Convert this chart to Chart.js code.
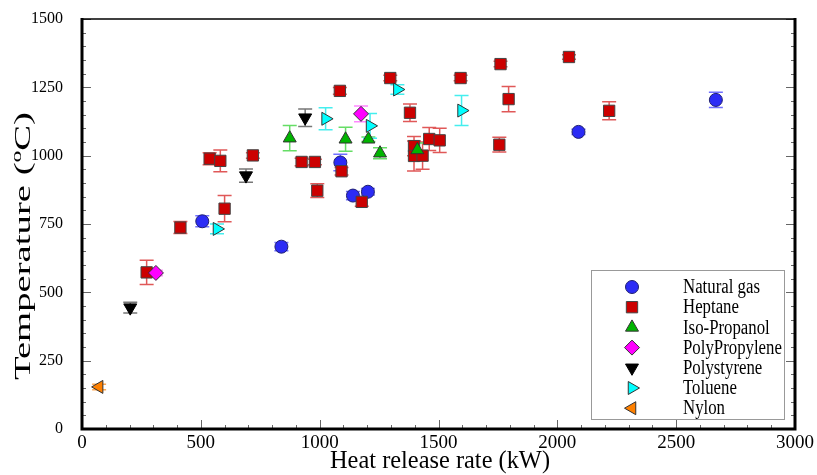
<!DOCTYPE html>
<html>
<head>
<meta charset="utf-8">
<script src="https://cdn.jsdelivr.net/npm/chart.js@4.4.1/dist/chart.umd.min.js"></script>
<style>
  html, body { margin: 0; padding: 0; background: #fff; }
  #wrap { width: 817px; height: 475px; }
</style>
</head>
<body>
<div id="wrap"><canvas id="heatChart" width="817" height="475"></canvas></div>
<script>
// heat release rate (kW), temperature (C), error half-size (C)
const gasHrr = [506, 839, 1087, 1140, 1203, 2089, 2667];
const gasTemp = [760, 667, 975, 854, 868, 1087, 1204];
const gasErr = [20, 15, 30, 15, 12, 10, 28];

const hepHrr = [272, 414, 537, 582, 600, 719, 924, 980, 990, 1085, 1092, 1177, 1297,
                1380, 1397, 1397, 1433, 1461, 1505, 1593, 1756, 1761, 1795, 2049, 2218];
const hepTemp = [573, 737, 989, 981, 806, 1001, 977, 977, 872, 1237, 943, 831, 1284,
                 1157, 1035, 999, 1000, 1061, 1056, 1284, 1040, 1335, 1207, 1361, 1164];
const hepErr = [44, 22, 22, 40, 48, 10, 14, 10, 25, 12, 14, 16, 10,
                32, 35, 55, 50, 42, 44, 10, 27, 10, 46, 8, 33];

const isoHrr = [874, 1109, 1205, 1254, 1411];
const isoTemp = [1064, 1060, 1060, 1009, 1021];
const isoErr = [46, 44, 8, 20, 25];

const ppHrr = [311, 1174];
const ppTemp = [571, 1153];
const ppErr = [10, 29];

const psHrr = [203, 690, 939];
const psTemp = [444, 927, 1139];
const psErr = [20, 24, 32];

const tolHrr = [568, 1025, 1212, 1327, 1597];
const tolTemp = [732, 1135, 1109, 1242, 1165];
const tolErr = [18, 40, 45, 17, 55];

const nyHrr = [72];
const nyTemp = [154];
const nyErr = [10];

const xTicks = [0, 500, 1000, 1500, 2000, 2500, 3000];
const yTicks = [0, 250, 500, 750, 1000, 1250, 1500];

const SERIF = '"Liberation Serif", "DejaVu Serif", serif';

function pts(xs, ys) {
  return xs.map((x, i) => ({ x: x, y: ys[i] }));
}

function series(label, xs, ys, errs, style) {
  return Object.assign({
    label: label,
    data: pts(xs, ys),
    errors: errs,
    borderWidth: 1,
    showLine: false
  }, style);
}

const datasets = [
  series('Natural gas', gasHrr, gasTemp, gasErr,
    { pointStyle: 'circle', pointRadius: 6.5, backgroundColor: '#2b2bf5', borderColor: '#202070', errorColor: '#7070ff' }),
  series('Heptane', hepHrr, hepTemp, hepErr,
    { pointStyle: 'rect', pointRadius: 8, backgroundColor: '#cc0000', borderColor: '#444444', errorColor: '#e05858' }),
  series('Iso-Propanol', isoHrr, isoTemp, isoErr,
    { pointStyle: 'triangle', pointRadius: 7.5, backgroundColor: '#00b400', borderColor: '#333333', errorColor: '#66dd66' }),
  series('PolyPropylene', ppHrr, ppTemp, ppErr,
    { pointStyle: 'rectRot', pointRadius: 7.5, backgroundColor: '#ff00ff', borderColor: '#333333', errorColor: '#ff88ff' }),
  series('Polystyrene', psHrr, psTemp, psErr,
    { pointStyle: 'triangle', pointRotation: 180, pointRadius: 7.5, backgroundColor: '#000000', borderColor: '#000000', errorColor: '#777777' }),
  series('Toluene', tolHrr, tolTemp, tolErr,
    { pointStyle: 'triangle', pointRotation: 90, pointRadius: 7.5, backgroundColor: '#00ffff', borderColor: '#333333', errorColor: '#44eeee' }),
  series('Nylon', nyHrr, nyTemp, nyErr,
    { pointStyle: 'triangle', pointRotation: 270, pointRadius: 7.5, backgroundColor: '#ff8000', borderColor: '#333333', errorColor: '#ffaa55' })
];
// later series drawn on top
datasets.forEach((ds, i) => { ds.order = 10 - i; });

const errorBars = {
  id: 'errorBars',
  beforeDatasetsDraw(chart) {
    const ctx = chart.ctx;
    const yScale = chart.scales.y;
    chart.data.datasets.forEach((ds, i) => {
      const meta = chart.getDatasetMeta(i);
      ctx.save();
      ctx.strokeStyle = ds.errorColor;
      ctx.lineWidth = 1.5;
      meta.data.forEach((pt, j) => {
        const v = ds.data[j].y, e = ds.errors[j];
        const yTop = yScale.getPixelForValue(v + e);
        const yBot = yScale.getPixelForValue(v - e);
        ctx.beginPath();
        ctx.moveTo(pt.x, yTop); ctx.lineTo(pt.x, yBot);
        ctx.moveTo(pt.x - 7, yTop); ctx.lineTo(pt.x + 7, yTop);
        ctx.moveTo(pt.x - 7, yBot); ctx.lineTo(pt.x + 7, yBot);
        ctx.stroke();
      });
      ctx.restore();
    });
  }
};

function drawMarker(ctx, ds, x, y) {
  ctx.save();
  ctx.fillStyle = ds.backgroundColor;
  ctx.strokeStyle = ds.borderColor;
  ctx.lineWidth = 1;
  Chart.helpers.drawPoint(ctx, {
    pointStyle: ds.pointStyle,
    rotation: ds.pointRotation || 0,
    radius: ds.pointRadius,
    borderWidth: 1
  }, x, y);
  ctx.restore();
}

const frame = {
  id: 'frame',
  afterDraw(chart) {
    const ctx = chart.ctx;
    const a = chart.chartArea;
    const xs = chart.scales.x, ys = chart.scales.y;
    ctx.save();

    // inward ticks
    ctx.strokeStyle = '#666';
    ctx.lineWidth = 1;
    ctx.beginPath();
    for (let v = 0; v <= 3000; v += 100) {
      const px = Math.round(xs.getPixelForValue(v)) + 0.5;
      const len = v % 500 === 0 ? 9 : 4;
      ctx.moveTo(px, a.bottom); ctx.lineTo(px, a.bottom - len);
    }
    for (let v = 0; v <= 1500; v += 50) {
      const py = Math.round(ys.getPixelForValue(v)) + 0.5;
      const len = v % 250 === 0 ? 9 : 4;
      ctx.moveTo(a.left, py); ctx.lineTo(a.left + len, py);
      ctx.moveTo(a.right, py); ctx.lineTo(a.right - len, py);
    }
    ctx.stroke();

    // frame
    ctx.strokeStyle = '#000';
    ctx.lineWidth = 1.5;
    ctx.beginPath();
    ctx.moveTo(a.left, a.top); ctx.lineTo(a.right, a.top);
    ctx.stroke();
    ctx.lineWidth = 3;
    ctx.beginPath();
    ctx.moveTo(a.left, a.top - 1); ctx.lineTo(a.left, a.bottom);
    ctx.lineTo(a.right, a.bottom); ctx.lineTo(a.right, a.top - 1);
    ctx.stroke();

    // axis titles
    ctx.fillStyle = '#000';
    ctx.textBaseline = 'alphabetic';
    ctx.textAlign = 'left';
    ctx.font = '23px ' + SERIF;
    const t1 = 'Temperature (', t3 = 'C)';
    const w1 = ctx.measureText(t1).width, w3 = ctx.measureText(t3).width;
    ctx.font = '14px ' + SERIF;
    const w2 = ctx.measureText('o').width;
    const total = w1 + w2 + w3;
    ctx.save();
    ctx.translate(30, 246);
    ctx.rotate(-Math.PI / 2);
    ctx.scale(268 / total, 1);
    let cx = -total / 2;
    ctx.font = '23px ' + SERIF;
    ctx.fillText(t1, cx, 0); cx += w1;
    ctx.font = '14px ' + SERIF;
    ctx.fillText('o', cx, -9); cx += w2;
    ctx.font = '23px ' + SERIF;
    ctx.fillText(t3, cx, 0);
    ctx.restore();

    ctx.save();
    ctx.font = '26px ' + SERIF;
    const xt = 'Heat release rate (kW)';
    const xw = ctx.measureText(xt).width;
    ctx.translate(440, 468);
    ctx.scale(220 / xw, 1);
    ctx.fillText(xt, -xw / 2, 0);
    ctx.restore();

    // legend box
    ctx.strokeStyle = '#999';
    ctx.lineWidth = 1;
    ctx.strokeRect(591.5, 270.5, 193, 149);
    chart.data.datasets.forEach((ds, i) => {
      const y = 287 + i * 20.2;
      drawMarker(ctx, ds, 632, y);
      ctx.save();
      ctx.fillStyle = '#000';
      ctx.font = '20px ' + SERIF;
      ctx.textBaseline = 'middle';
      ctx.translate(683, y + 1);
      ctx.scale(0.84, 1);
      ctx.fillText(ds.label, 0, 0);
      ctx.restore();
    });

    ctx.restore();
  }
};

const plain = (v) => String(v);

const ctx = document.getElementById('heatChart').getContext('2d');
const heatChart = new Chart(ctx, {
  type: 'scatter',
  data: { datasets: datasets },
  options: {
    responsive: false,
    animation: false,
    devicePixelRatio: 1,
    layout: { padding: { top: 19, right: 22, left: 0, bottom: 0 } },
    plugins: {
      legend: { display: false },
      tooltip: { enabled: false }
    },
    scales: {
      x: {
        type: 'linear',
        min: 0,
        max: 3000,
        afterBuildTicks: (s) => { s.ticks = xTicks.map(v => ({ value: v })); },
        afterFit: (s) => { s.height = 46; s.paddingLeft = 0; s.paddingRight = 0; },
        ticks: { color: '#000', font: { family: SERIF, size: 19 }, padding: 3, autoSkip: false, maxRotation: 0, callback: plain },
        grid: { display: false, drawTicks: false },
        border: { display: false }
      },
      y: {
        type: 'linear',
        min: 0,
        max: 1500,
        afterBuildTicks: (s) => { s.ticks = yTicks.map(v => ({ value: v })); },
        afterFit: (s) => { s.width = 82; s.paddingTop = 0; s.paddingBottom = 0; },
        ticks: { color: '#000', font: { family: SERIF, size: 16 }, padding: 19, autoSkip: false, callback: plain },
        grid: { display: false, drawTicks: false },
        border: { display: false }
      }
    }
  },
  plugins: [errorBars, frame]
});
</script>
</body>
</html>
